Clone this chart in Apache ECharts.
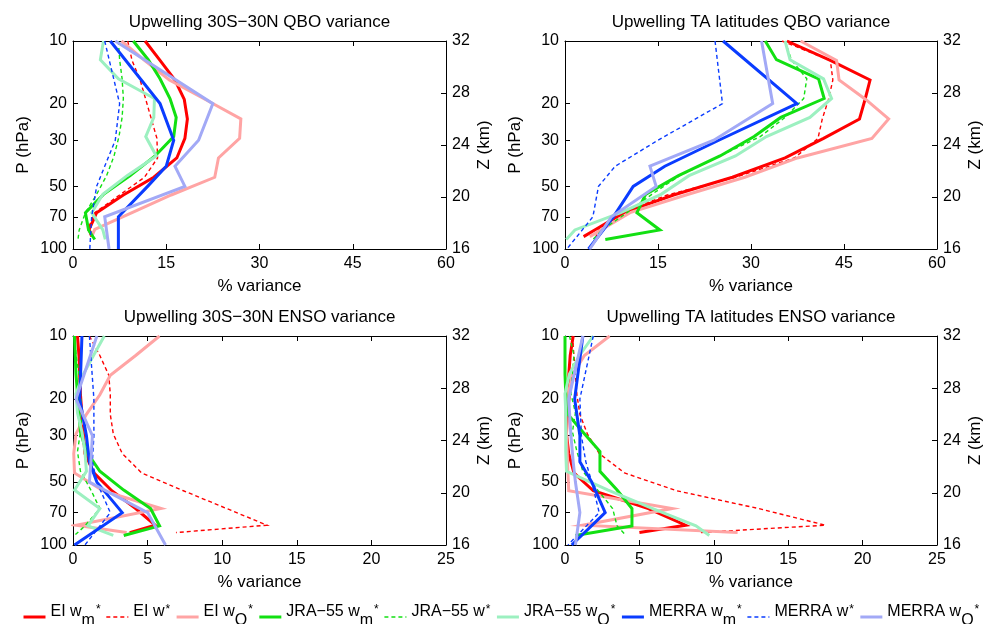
<!DOCTYPE html>
<html>
<head>
<meta charset="utf-8">
<script src="https://cdn.jsdelivr.net/npm/echarts@6.0.0/dist/echarts.min.js"></script>
<style>
  html, body { margin: 0; padding: 0; background: #ffffff; }
  #main { width: 1000px; height: 624px; }
</style>
</head>
<body>
<div id="main"></div>
<script>
// Pressure levels (hPa) of each reanalysis profile
const P_ERAI  = [10, 12.4, 15.4, 19.1, 23.7, 29.4, 36.5, 45.2, 55.0, 66.9, 80.4, 87.2];
const P_JRA55 = [10, 12.3, 15.2, 18.9, 23.3, 28.8, 35.7, 44.4, 54.6, 66.9, 81.0, 90.0];
const P_MERRA = [10, 20, 30, 40, 50, 70, 100];

// Axis tick values
const P_TICKS = [10, 20, 30, 50, 70, 100];
const Z_RANGE = [16, 32];
const Z_STEP = 4;

// Upwelling 30S-30N, QBO variance (%)
const qboTrop_EI_wm   = [11.6, 14.0, 16.4, 17.9, 18.4, 18.0, 16.7, 13.0, 8.1, 3.8, 2.6, 3.0];
const qboTrop_EI_w    = [8.8, 9.5, 10.8, 11.7, 12.6, 13.5, 13.6, 11.5, 7.5, 3.5, 2.4, 3.2];
const qboTrop_EI_wQ   = [7.8, 11.5, 15.5, 21.3, 27.0, 26.8, 23.4, 22.8, 15.8, 9.5, 3.5, 3.0];
const qboTrop_JRA_wm  = [9.7, 12.1, 14.0, 15.6, 16.6, 16.2, 13.2, 9.2, 4.9, 2.0, 2.5, 3.5];
const qboTrop_JRA_w   = [7.3, 7.5, 7.9, 8.1, 7.9, 7.4, 6.6, 5.4, 3.8, 2.0, 1.0, 0.8];
const qboTrop_JRA_wQ  = [4.9, 4.4, 7.3, 13.1, 13.0, 11.7, 13.4, 8.7, 4.8, 3.0, 4.8, 5.2];
const qboTrop_MER_wm  = [6.0, 14.0, 16.2, 15.0, 12.0, 7.3, 7.3];
const qboTrop_MER_w   = [5.1, 7.5, 6.8, 5.1, 3.8, 3.0, 2.7];
const qboTrop_MER_wQ  = [6.8, 22.5, 20.2, 16.4, 18.0, 5.1, 5.8];

// Upwelling TA latitudes, QBO variance (%)
const qboTA_EI_wm   = [35.8, 42.8, 49.2, 48.4, 47.5, 41.7, 35.5, 27.0, 17.5, 9.5, 5.0, 3.0];
const qboTA_EI_w    = [35.0, 42.8, 43.2, 42.5, 41.5, 40.8, 37.0, 27.5, 16.5, 9.0, 5.5, 5.0];
const qboTA_EI_wQ   = [38.0, 43.8, 44.2, 48.5, 52.2, 49.5, 37.5, 29.0, 19.5, 10.5, 6.0, 4.0];
const qboTA_JRA_wm  = [32.3, 34.1, 40.9, 41.8, 34.8, 30.5, 25.0, 18.3, 13.0, 11.6, 15.3, 6.5];
const qboTA_JRA_w   = [35.5, 36.5, 39.0, 38.5, 35.5, 31.5, 25.0, 18.5, 14.0, 10.0, 6.0, 4.5];
const qboTA_JRA_wQ  = [35.5, 36.3, 41.7, 43.0, 39.5, 32.5, 27.5, 20.0, 15.5, 9.0, 1.6, 0.2];
const qboTA_MER_wm  = [25.5, 37.4, 24.8, 16.1, 11.0, 7.8, 3.8];
const qboTA_MER_w   = [24.2, 25.4, 15.0, 8.1, 5.4, 4.5, 0.3];
const qboTA_MER_wQ  = [31.7, 33.5, 24.0, 13.7, 14.7, 7.5, 4.0];

// Upwelling 30S-30N, ENSO variance (%)
const ensoTrop_EI_wm   = [0.3, 0.4, 0.45, 0.5, 0.6, 0.7, 0.8, 1.4, 2.6, 4.2, 5.5, 3.8];
const ensoTrop_EI_w    = [1.1, 1.8, 2.4, 2.5, 2.5, 2.7, 3.3, 4.6, 7.4, 10.3, 13.0, 6.9];
const ensoTrop_EI_wQ   = [5.8, 4.2, 2.5, 1.8, 0.9, 0.2, 0.05, 0.1, 2.0, 5.9, 0.2, 3.6];
const ensoTrop_JRA_wm  = [0.1, 0.15, 0.2, 0.3, 0.4, 0.5, 0.9, 1.8, 3.4, 5.2, 5.8, 3.4];
const ensoTrop_JRA_w   = [0.1, 0.2, 0.4, 0.5, 0.6, 0.5, 0.3, 0.5, 1.2, 1.8, 0.8, 0.1];
const ensoTrop_JRA_wQ  = [2.1, 1.4, 0.7, 0.2, 0.3, 0.6, 0.8, 0.9, 0.1, 1.8, 1.0, 2.7];
const ensoTrop_MER_wm  = [0.6, 0.45, 0.9, 1.1, 1.6, 3.3, 0.1];
const ensoTrop_MER_w   = [1.1, 1.4, 1.4, 1.3, 1.6, 2.5, 0.8];
const ensoTrop_MER_wQ  = [1.6, 0.2, 1.3, 1.2, 1.1, 5.0, 6.2];

// Upwelling TA latitudes, ENSO variance (%)
const ensoTA_EI_wm   = [0.55, 0.35, 0.25, 0.3, 0.15, 0.1, 0.25, 0.6, 1.9, 5.6, 8.1, 5.0];
const ensoTA_EI_w    = [0.5, 0.6, 0.7, 0.8, 1.0, 1.5, 2.3, 4.0, 7.5, 13.0, 17.5, 9.0];
const ensoTA_EI_wQ   = [3.0, 1.3, 0.5, 0.2, 0.05, 0.1, 0.15, 0.2, 0.25, 7.2, 1.2, 11.6];
const ensoTA_JRA_wm  = [0.0, 0.0, 0.0, 0.05, 0.1, 1.2, 2.35, 2.35, 3.5, 4.5, 4.5, 0.7];
const ensoTA_JRA_w   = [0.3, 0.6, 0.5, 0.4, 0.7, 0.5, 0.8, 1.2, 2.2, 3.2, 3.5, 4.1];
const ensoTA_JRA_wQ  = [1.9, 1.0, 0.3, 0.0, 0.05, 0.05, 0.05, 0.1, 2.9, 5.9, 8.8, 9.7];
const ensoTA_MER_wm  = [1.2, 0.65, 1.0, 1.0, 1.8, 2.7, 0.45];
const ensoTA_MER_w   = [1.9, 1.0, 1.1, 1.4, 1.8, 2.3, 0.2];
const ensoTA_MER_wQ  = [1.2, 0.25, 0.4, 0.55, 0.7, 1.0, 0.7];

// Panel titles and x ranges
const TITLES = [
  'Upwelling 30S\u221230N QBO variance',
  'Upwelling TA latitudes QBO variance',
  'Upwelling 30S\u221230N ENSO variance',
  'Upwelling TA latitudes ENSO variance'
];
const X_MAX  = [60, 60, 25, 25];
const X_STEP = [15, 15, 5, 5];

const PANEL_VALUES = [
  [qboTrop_EI_wm, qboTrop_EI_w, qboTrop_EI_wQ, qboTrop_JRA_wm, qboTrop_JRA_w, qboTrop_JRA_wQ, qboTrop_MER_wm, qboTrop_MER_w, qboTrop_MER_wQ],
  [qboTA_EI_wm, qboTA_EI_w, qboTA_EI_wQ, qboTA_JRA_wm, qboTA_JRA_w, qboTA_JRA_wQ, qboTA_MER_wm, qboTA_MER_w, qboTA_MER_wQ],
  [ensoTrop_EI_wm, ensoTrop_EI_w, ensoTrop_EI_wQ, ensoTrop_JRA_wm, ensoTrop_JRA_w, ensoTrop_JRA_wQ, ensoTrop_MER_wm, ensoTrop_MER_w, ensoTrop_MER_wQ],
  [ensoTA_EI_wm, ensoTA_EI_w, ensoTA_EI_wQ, ensoTA_JRA_wm, ensoTA_JRA_w, ensoTA_JRA_wQ, ensoTA_MER_wm, ensoTA_MER_w, ensoTA_MER_wQ]
];

// Series appearance: dataset, legend text parts, colour and stroke
const LINES = [
  { key: 'EI wm*',     lev: P_ERAI,  label: 'EI w',           sub: 'm', color: '#ff0000', width: 3,   dash: 'solid' },
  { key: 'EI w*',      lev: P_ERAI,  label: 'EI w',           sub: '',  color: '#ff0000', width: 1.4, dash: [4, 3] },
  { key: 'EI wQ*',     lev: P_ERAI,  label: 'EI w',           sub: 'Q', color: '#ffa4a4', width: 3,   dash: 'solid' },
  { key: 'JRA-55 wm*', lev: P_JRA55, label: 'JRA\u221255 w',  sub: 'm', color: '#12e012', width: 3,   dash: 'solid' },
  { key: 'JRA-55 w*',  lev: P_JRA55, label: 'JRA\u221255 w',  sub: '',  color: '#12e012', width: 1.4, dash: [4, 3] },
  { key: 'JRA-55 wQ*', lev: P_JRA55, label: 'JRA\u221255 w',  sub: 'Q', color: '#9cf0c0', width: 3,   dash: 'solid' },
  { key: 'MERRA wm*',  lev: P_MERRA, label: 'MERRA w',        sub: 'm', color: '#0a3cff', width: 3,   dash: 'solid' },
  { key: 'MERRA w*',   lev: P_MERRA, label: 'MERRA w',        sub: '',  color: '#0a3cff', width: 1.4, dash: [4, 3] },
  { key: 'MERRA wQ*',  lev: P_MERRA, label: 'MERRA w',        sub: 'Q', color: '#a2a9f6', width: 3,   dash: 'solid' }
];

const FONT = '"Liberation Sans", Arial, Helvetica, sans-serif';
const BLACK = '#000000';

const GRID_BOX = [
  { left: 73,  top: 41,  width: 373, height: 208 },
  { left: 565, top: 41,  width: 372, height: 208 },
  { left: 73,  top: 336, width: 373, height: 209 },
  { left: 565, top: 336, width: 372, height: 209 }
];

const axisLine = { show: true, onZero: false, lineStyle: { color: BLACK, width: 1 } };
const tickIn = { show: true, inside: true, length: 5, lineStyle: { color: BLACK, width: 1 } };
const labelStyle = { color: BLACK, fontSize: 16, fontFamily: FONT };
const nameStyle = { color: BLACK, fontSize: 17, fontFamily: FONT };

const grids = [], xAxes = [], yAxes = [], titles = [], series = [];

GRID_BOX.forEach((g, i) => {
  grids.push({ left: g.left, top: g.top, width: g.width, height: g.height, containLabel: false });

  titles.push({
    text: TITLES[i],
    left: g.left + g.width / 2,
    top: g.top - 27,
    textAlign: 'center',
    padding: 0,
    textStyle: { color: BLACK, fontSize: 17, fontWeight: 'normal', fontFamily: FONT }
  });

  // bottom x axis with labels, top x axis closes the box
  xAxes.push({
    gridIndex: i, type: 'value', position: 'bottom',
    min: 0, max: X_MAX[i], interval: X_STEP[i],
    axisLine: axisLine, axisTick: tickIn,
    axisLabel: Object.assign({ margin: 7 }, labelStyle),
    splitLine: { show: false },
    name: '% variance', nameLocation: 'middle', nameGap: 29, nameTextStyle: nameStyle
  });
  xAxes.push({
    gridIndex: i, type: 'value', position: 'top',
    min: 0, max: X_MAX[i], interval: X_STEP[i],
    axisLine: axisLine, axisTick: tickIn,
    axisLabel: { show: false }, splitLine: { show: false }
  });

  // pressure axis (log, inverted) and log-pressure altitude axis
  yAxes.push({
    gridIndex: i, type: 'log', logBase: 10, min: 10, max: 100, inverse: true, position: 'left',
    axisLine: axisLine,
    axisTick: Object.assign({}, tickIn, { customValues: P_TICKS }),
    minorTick: { show: false },
    axisLabel: Object.assign({ margin: 6, customValues: P_TICKS }, labelStyle),
    splitLine: { show: false },
    name: 'P (hPa)', nameLocation: 'middle', nameRotate: 90, nameGap: 41, nameTextStyle: nameStyle
  });
  yAxes.push({
    gridIndex: i, type: 'value', position: 'right',
    min: Z_RANGE[0], max: Z_RANGE[1], interval: Z_STEP,
    axisLine: axisLine, axisTick: tickIn,
    axisLabel: Object.assign({ margin: 6 }, labelStyle),
    splitLine: { show: false },
    name: 'Z (km)', nameLocation: 'middle', nameRotate: 90, nameGap: 30, nameTextStyle: nameStyle
  });

  LINES.forEach((s, k) => {
    const vals = PANEL_VALUES[i][k];
    series.push({
      type: 'line', name: s.key,
      xAxisIndex: 2 * i, yAxisIndex: 2 * i,
      data: s.lev.map((p, j) => [vals[j], p]),
      symbol: 'none', showSymbol: false, silent: true,
      color: s.color,
      lineStyle: { color: s.color, width: s.width, type: s.dash, join: 'miter' },
      z: 2
    });
  });
});

const option = {
  animation: false,
  backgroundColor: '#ffffff',
  textStyle: { fontFamily: FONT },
  title: titles,
  grid: grids,
  xAxis: xAxes,
  yAxis: yAxes,
  legend: {
    data: LINES.map(s => s.key),
    left: 22, top: 602,
    padding: 0,
    itemWidth: 22, itemHeight: 14, itemGap: 5,
    selectedMode: false,
    itemStyle: { opacity: 0 },
    lineStyle: { width: 'inherit' },
    formatter: name => {
      const s = LINES.find(l => l.key === name);
      return '{n|' + s.label + '}' + (s.sub ? '{sub|' + s.sub + '}' : '') + '{sup|*}';
    },
    textStyle: {
      color: BLACK, fontFamily: FONT, fontSize: 16,
      rich: {
        n:   { fontSize: 16, fontFamily: FONT, color: BLACK, height: 19, lineHeight: 30, verticalAlign: 'top' },
        sub: { fontSize: 16, fontFamily: FONT, color: BLACK, height: 23, verticalAlign: 'bottom' },
        sup: { fontSize: 12, fontFamily: FONT, color: BLACK, height: 15, verticalAlign: 'top', padding: [0, 0, 0, 1] }
      }
    }
  },
  series: series
};

const chart = echarts.init(document.getElementById('main'), null, { renderer: 'canvas' });
chart.setOption(option);
</script>
</body>
</html>
